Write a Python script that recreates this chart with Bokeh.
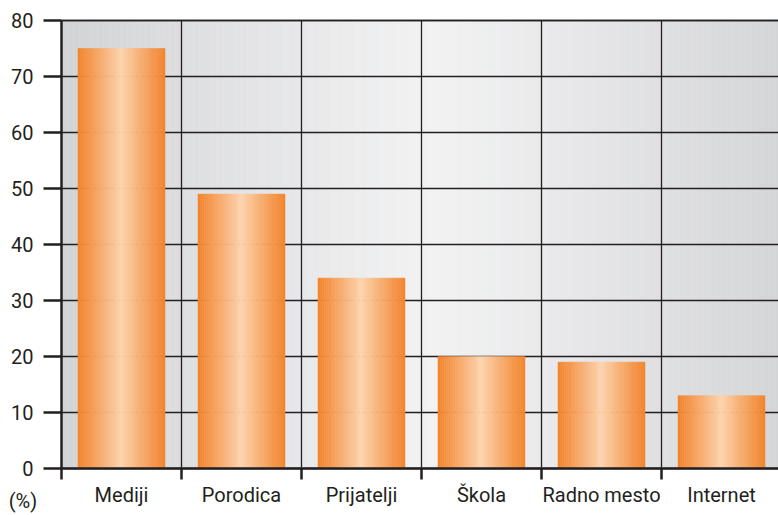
from bokeh.plotting import figure
from bokeh.models import Range1d, FixedTicker, ColumnDataSource, Label
from bokeh.embed import file_html
from bokeh.resources import INLINE

categories = ["Mediji", "Porodica", "Prijatelji", "Škola", "Radno mesto", "Internet"]
values = [75, 49, 34, 20, 19, 13]
y_ticks = [0, 10, 20, 30, 40, 50, 60, 70, 80]
y_max = 80

FONT = "Roboto"
FS = "20px"
DARK = "#231f20"

# frame covers the whole canvas; axes are pinned at x=0 / y=0
p = figure(width=778, height=515, output_backend="svg", toolbar_location=None,
           x_range=Range1d(-0.5083, 5.975), y_range=Range1d(-8.39, 83.57),
           min_border=0, frame_width=778, frame_height=515,
           background_fill_color="white", border_fill_color="white")
p.outline_line_color = None
p.xgrid.visible = False
p.ygrid.visible = False

n_cat = len(categories)

def mix(c1, c2, t):
    return "#%02x%02x%02x" % tuple(int(round(a + (b - a) * t)) for a, b in zip(c1, c2))

# background gradient of the plot area (styling)
n_bg = 120
bl, br, bc = [], [], []
grey_dark = (0xd3, 0xd4, 0xd6)
grey_light = (0xf2, 0xf2, 0xf3)
for i in range(n_bg):
    x0 = n_cat * i / n_bg
    x1 = n_cat * (i + 1) / n_bg
    xm = (x0 + x1) / 2
    d = abs(xm - 3.1) / 3.0
    bl.append(x0); br.append(x1); bc.append(mix(grey_light, grey_dark, min(1, d ** 1.1)))
p.quad(left=bl, right=br, bottom=0, top=y_max, fill_color=bc, line_color=bc, line_width=0.5)

# grid lines
p.segment(x0=[0] * len(y_ticks), x1=[n_cat] * len(y_ticks), y0=y_ticks, y1=y_ticks,
          line_color=DARK, line_width=1.3)
bounds_x = list(range(1, n_cat))
p.segment(x0=bounds_x, x1=bounds_x, y0=[0] * len(bounds_x), y1=[y_max] * len(bounds_x),
          line_color=DARK, line_width=1.3)

# bars with horizontal gradient
orange = (0xf2, 0x84, 0x2c)
peach = (0xfd, 0xd6, 0xb2)
bar_w = 0.725
n_s = 40
L, R, T, C = [], [], [], []
for i, v in enumerate(values):
    c = i + 0.5
    for k in range(n_s):
        a = c - bar_w / 2 + bar_w * k / n_s
        b = c - bar_w / 2 + bar_w * (k + 1) / n_s
        t = abs((k + 0.5) / n_s - 0.5) * 2
        L.append(a); R.append(b); T.append(v); C.append(mix(peach, orange, t ** 0.9))
src = ColumnDataSource(dict(left=L, right=R, top=T, color=C))
p.quad(left="left", right="right", bottom=0, top="top", fill_color="color",
       line_color="color", line_width=0.5, source=src)

# y axis
ya = p.yaxis[0]
ya.fixed_location = 0
ya.bounds = (0, y_max)
ya.ticker = FixedTicker(ticks=y_ticks)
ya.axis_line_color = DARK
ya.axis_line_width = 2.5
ya.major_tick_line_color = DARK
ya.major_tick_line_width = 2.5
ya.major_tick_out = 18
ya.major_tick_in = 0
ya.minor_tick_line_color = None
ya.major_label_text_font = FONT
ya.major_label_text_font_size = FS
ya.major_label_text_color = DARK
ya.major_label_standoff = 10

# x axis
xa = p.xaxis[0]
xa.fixed_location = 0
xa.bounds = (0, n_cat)
xa.ticker = FixedTicker(ticks=[i + 0.5 for i in range(n_cat)],
                        minor_ticks=list(range(n_cat + 1)))
xa.major_label_overrides = {i + 0.5: c for i, c in enumerate(categories)}
xa.axis_line_color = DARK
xa.axis_line_width = 2.5
xa.major_tick_line_color = None
xa.major_tick_out = 0
xa.minor_tick_line_color = DARK
xa.minor_tick_line_width = 2.5
xa.minor_tick_out = 11
xa.minor_tick_in = 0
xa.major_label_text_font = FONT
xa.major_label_text_font_size = FS
xa.major_label_text_color = DARK
xa.major_label_standoff = 3

# top border of plot area
p.segment(x0=[0], x1=[n_cat], y0=[y_max], y1=[y_max], line_color=DARK, line_width=1.3)

lab = Label(x=-0.44, y=-3.7, text="(%)", text_font=FONT, text_font_size=FS,
            text_color=DARK, text_baseline="top", text_align="left")
p.add_layout(lab)

open("out.html", "w").write(file_html(p, INLINE))
